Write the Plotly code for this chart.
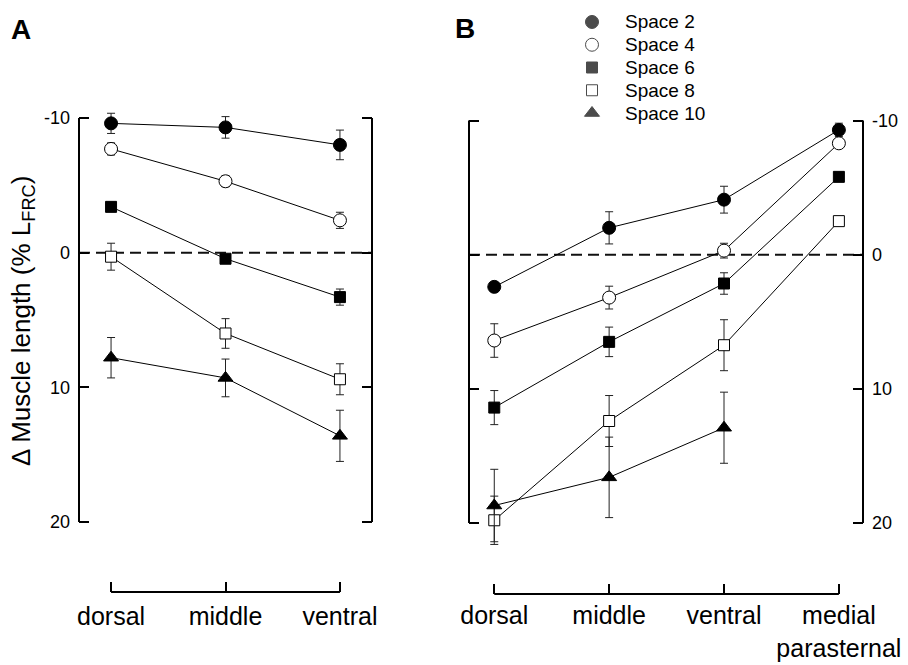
import plotly.graph_objects as go

# ---- data: change in muscle length (% of length at FRC), mean and error ----
sites_a = ["dorsal", "middle", "ventral"]
sites_b = ["dorsal", "middle", "ventral", "medial parasternal"]
series_names = ["Space 2", "Space 4", "Space 6", "Space 8", "Space 10"]

a_space2 = [-9.6, -9.3, -8.0]
a_space2_err = [0.75, 0.8, 1.1]
a_space4 = [-7.7, -5.3, -2.4]
a_space4_err = [0.45, 0.4, 0.6]
a_space6 = [-3.4, 0.45, 3.3]
a_space6_err = [0.3, 0.3, 0.6]
a_space8 = [0.3, 6.0, 9.4]
a_space8_err = [1.0, 1.1, 1.15]
a_space10 = [7.8, 9.3, 13.6]
a_space10_err = [1.5, 1.4, 1.9]

b_space2 = [2.4, -2.0, -4.1, -9.3]
b_space2_err = [0.3, 1.2, 1.0, 0.5]
b_space4 = [6.4, 3.2, -0.3, -8.3]
b_space4_err = [1.25, 0.85, 0.55, 0.3]
b_space6 = [11.4, 6.5, 2.15, -5.8]
b_space6_err = [1.27, 1.1, 0.8, 0.3]
b_space8 = [19.8, 12.4, 6.75, -2.5]
b_space8_err = [1.8, 1.9, 1.9, 0.3]
b_space10 = [18.7, 16.6, 12.9]
b_space10_err = [2.7, 3.0, 2.65]

y_ticks = [-10, 0, 10, 20]
y_tick_text = ["-10", "0", "10", "20"]

# ---- styling ----
W, H = 908, 665
FONT = "Liberation Sans, Arial, Helvetica, sans-serif"
styles = [
    dict(symbol="circle", color="black", size=13),
    dict(symbol="circle", color="white", size=13),
    dict(symbol="square", color="black", size=11),
    dict(symbol="square", color="white", size=11),
    dict(symbol="triangle-up", color="black", size=13),
]

panel_a = list(zip([a_space2, a_space4, a_space6, a_space8, a_space10],
                   [a_space2_err, a_space4_err, a_space6_err, a_space8_err, a_space10_err]))
panel_b = list(zip([b_space2, b_space4, b_space6, b_space8, b_space10],
                   [b_space2_err, b_space4_err, b_space6_err, b_space8_err, b_space10_err]))


def px_x(v):
    return v / W


def px_y(v):
    return 1 - v / H


fig = go.Figure()


def add_panel(panel, xa, ya):
    for (vals, errs), st in zip(panel, styles):
        fig.add_trace(go.Scatter(
            x=list(range(len(vals))), y=vals,
            xaxis=xa, yaxis=ya,
            mode="lines+markers",
            line=dict(color="black", width=1),
            marker=dict(symbol=st["symbol"], color=st["color"], size=st["size"],
                        line=dict(color="black", width=1)),
            error_y=dict(type="data", array=errs, visible=True,
                         color="#222", thickness=1, width=4),
            showlegend=False, hoverinfo="skip",
        ))


add_panel(panel_a, "x", "y")
add_panel(panel_b, "x2", "y2")

# key: one marker per series on its own hidden axes, labels beside them
fig.add_trace(go.Scatter(
    x=[0] * len(series_names), y=list(range(len(series_names))),
    xaxis="x3", yaxis="y3", mode="markers", cliponaxis=False,
    marker=dict(symbol=[s["symbol"] for s in styles],
                color=[s["color"] for s in styles],
                size=[s["size"] for s in styles],
                line=dict(color="black", width=1)),
    showlegend=False, hoverinfo="skip",
))
for i, name in enumerate(series_names):
    fig.add_annotation(text=name, x=1, y=i, xref="x3", yref="y3",
                       xanchor="left", yanchor="middle", showarrow=False,
                       font=dict(size=19, family=FONT))

y_range = [22.5, -11]
axis_common = dict(showgrid=False, zeroline=False, showline=False, automargin=False,
                   ticks="inside", ticklen=10, tickwidth=2, tickcolor="black",
                   color="black")

fig.update_layout(
    width=W, height=H,
    margin=dict(l=0, r=0, t=0, b=0, autoexpand=False),
    paper_bgcolor="white", plot_bgcolor="rgba(0,0,0,0)",
    font=dict(family=FONT, color="black"),
    showlegend=False,
    xaxis=dict(domain=[px_x(79), px_x(372)], range=[-0.28, 2.28],
               anchor="free", position=px_y(592),
               tickvals=list(range(len(sites_a))), ticktext=sites_a,
               tickfont=dict(size=25), ticklabelstandoff=7, **axis_common),
    yaxis=dict(domain=[px_y(555.7), px_y(104.5)], range=y_range, anchor="x",
               side="left", tickvals=y_ticks, ticktext=y_tick_text, mirror="ticks",
               tickfont=dict(size=18), ticklabelstandoff=8, **axis_common),
    xaxis2=dict(domain=[px_x(469), px_x(863)], range=[-0.22, 3.21],
                anchor="free", position=px_y(594),
                tickvals=list(range(len(sites_b))),
                ticktext=[s.replace(" ", "<br>") for s in sites_b],
                tickfont=dict(size=25), ticklabelstandoff=4, **axis_common),
    yaxis2=dict(domain=[px_y(556.5), px_y(107.1)], range=y_range, anchor="x2",
                side="right", tickvals=y_ticks, ticktext=y_tick_text, mirror="ticks",
                tickfont=dict(size=18), ticklabelstandoff=8, **axis_common),
    xaxis3=dict(domain=[px_x(561), px_x(685)], range=[-1, 3], anchor="y3",
                visible=False),
    yaxis3=dict(domain=[px_y(124.4), px_y(10.6)], range=[4.5, -0.5], anchor="x3",
                visible=False),
)

shapes = []
for xa, ya in (("x", "y"), ("x2", "y2")):
    # vertical frame lines spanning the labelled range
    for side in (0, 1):
        shapes.append(dict(type="line", xref=f"{xa} domain", yref=ya,
                           x0=side, x1=side, y0=min(y_ticks), y1=max(y_ticks),
                           line=dict(color="black", width=2), layer="above"))
    # zero reference line
    shapes.append(dict(type="line", xref=f"{xa} domain", yref=ya,
                       x0=0, x1=1, y0=0, y1=0,
                       line=dict(color="#111", width=2, dash="11px,6px"),
                       layer="below"))
axpos = {"x": px_y(592), "x2": px_y(594)}
for xa, sites in (("x", sites_a), ("x2", sites_b)):
    shapes.append(dict(type="line", xref=xa, yref="paper",
                       x0=0, x1=len(sites) - 1, y0=axpos[xa], y1=axpos[xa],
                       line=dict(color="black", width=2)))
fig.update_layout(shapes=shapes)

fig.add_annotation(text="<b>A</b>", x=px_x(9), y=px_y(29), xref="paper", yref="paper",
                   xanchor="left", yanchor="middle", showarrow=False,
                   font=dict(size=28, family=FONT))
fig.add_annotation(text="<b>B</b>", x=px_x(453), y=px_y(28), xref="paper", yref="paper",
                   xanchor="left", yanchor="middle", showarrow=False,
                   font=dict(size=28, family=FONT))
fig.add_annotation(text="\u0394 Muscle length (% L<sub>FRC</sub>)",
                   x=px_x(22), y=px_y(321), xref="paper", yref="paper",
                   xanchor="center", yanchor="middle", textangle=-90, showarrow=False,
                   font=dict(size=26, family=FONT))

fig.write_html("out.html")
